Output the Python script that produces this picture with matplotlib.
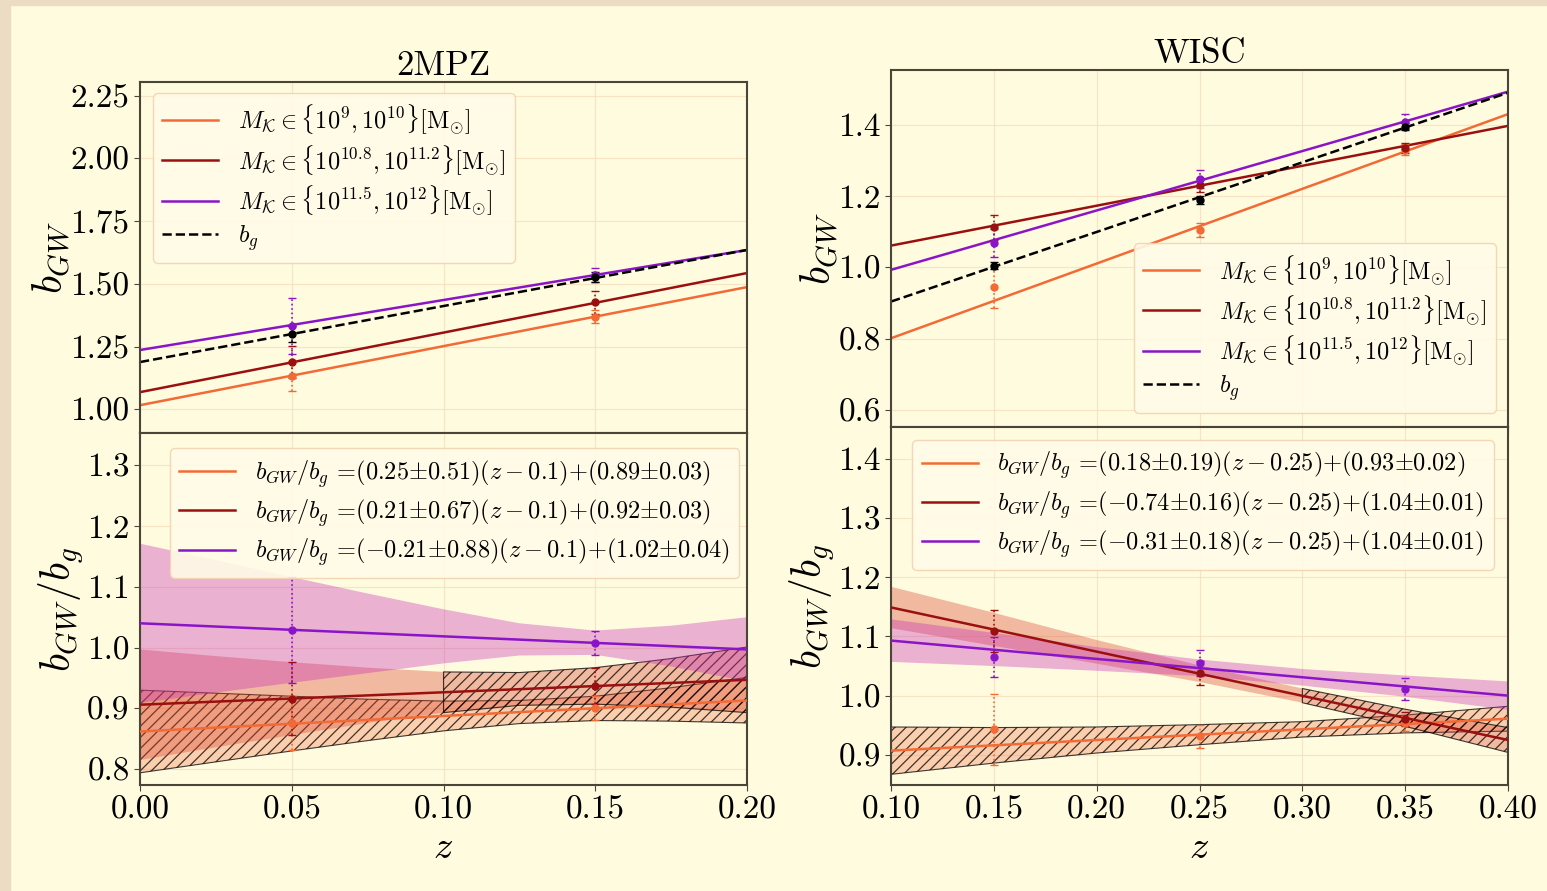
import numpy as np
import matplotlib
matplotlib.use("Agg")
import matplotlib.pyplot as plt
from matplotlib.patches import Rectangle

plt.rcParams['font.family'] = 'serif'
plt.rcParams['font.serif'] = ['cmr10']
plt.rcParams['mathtext.fontset'] = 'cm'
plt.rcParams['axes.formatter.use_mathtext'] = True
plt.rcParams['hatch.linewidth'] = 0.9

BG = '#fffbdf'
FRAME = '#ecdcc4'
C_OR = '#f26a35'
C_DR = '#9a1010'
C_PU = '#8a15c8'
F_OR = (0.957, 0.478, 0.314, 0.35)
F_DR = (0.851, 0.251, 0.165, 0.35)
F_PU = (0.780, 0.180, 0.720, 0.36)

mass_labels = [r'$M_{\mathcal{K}}\in\{10^{9}, 10^{10}\}[\mathrm{M}_{\odot}]$',
               r'$M_{\mathcal{K}}\in\{10^{10.8}, 10^{11.2}\}[\mathrm{M}_{\odot}]$',
               r'$M_{\mathcal{K}}\in\{10^{11.5}, 10^{12}\}[\mathrm{M}_{\odot}]$',
               r'$b_g$']
fit_labels_2mpz = [r'$b_{GW}/b_g$ =(0.25$\pm$0.51)($z-0.1$)+(0.89$\pm$0.03)',
                   r'$b_{GW}/b_g$ =(0.21$\pm$0.67)($z-0.1$)+(0.92$\pm$0.03)',
                   r'$b_{GW}/b_g$ =($-$0.21$\pm$0.88)($z-0.1$)+(1.02$\pm$0.04)']
fit_labels_wisc = [r'$b_{GW}/b_g$ =(0.18$\pm$0.19)($z-0.25$)+(0.93$\pm$0.02)',
                   r'$b_{GW}/b_g$ =($-$0.74$\pm$0.16)($z-0.25$)+(1.04$\pm$0.01)',
                   r'$b_{GW}/b_g$ =($-$0.31$\pm$0.18)($z-0.25$)+(1.04$\pm$0.01)']

# ---- 2MPZ ----
z_2mpz = [0.05, 0.15]
zl_2mpz = [0.0, 0.2]
b_or_2mpz = [1.133, 1.369]; e_or_2mpz = [0.06, 0.025]
b_dr_2mpz = [1.188, 1.426]; e_dr_2mpz = [0.065, 0.045]
b_pu_2mpz = [1.332, 1.535]; e_pu_2mpz = [0.11, 0.027]
b_bg_2mpz = [1.300, 1.526]; e_bg_2mpz = [0.03, 0.02]
bl_or_2mpz = [1.016, 1.487]
bl_dr_2mpz = [1.068, 1.543]
bl_pu_2mpz = [1.236, 1.635]
bl_bg_2mpz = [1.188, 1.635]

r_or_2mpz = [0.876, 0.901]; re_or_2mpz = [0.045, 0.02]
r_dr_2mpz = [0.916, 0.937]; re_dr_2mpz = [0.06, 0.03]
r_pu_2mpz = [1.029, 1.008]; re_pu_2mpz = [0.087, 0.02]
rl_or_2mpz = [0.862, 0.913]
rl_dr_2mpz = [0.906, 0.947]
rl_pu_2mpz = [1.040, 0.997]

zb_2mpz = [0.0, 0.025, 0.05, 0.075, 0.1, 0.125, 0.15, 0.175, 0.2]
pu_hi_2mpz = [1.171, 1.144, 1.116, 1.089, 1.063, 1.040, 1.028, 1.036, 1.050]
pu_lo_2mpz = [0.909, 0.926, 0.942, 0.958, 0.974, 0.987, 0.988, 0.969, 0.944]
dr_hi_2mpz = [0.997, 0.986, 0.976, 0.967, 0.960, 0.959, 0.967, 0.982, 1.001]
dr_lo_2mpz = [0.815, 0.836, 0.856, 0.876, 0.893, 0.905, 0.907, 0.902, 0.893]
or_hi_2mpz = [0.930, 0.925, 0.920, 0.915, 0.912, 0.913, 0.920, 0.934, 0.951]
or_lo_2mpz = [0.794, 0.812, 0.830, 0.847, 0.863, 0.875, 0.880, 0.879, 0.876]

# ---- WISC ----
z_wisc = [0.15, 0.25, 0.35]
zl_wisc = [0.1, 0.4]
b_or_wisc = [0.946, 1.105, 1.330]; e_or_wisc = [0.06, 0.02, 0.015]
b_dr_wisc = [1.112, 1.232, 1.335]; e_dr_wisc = [0.035, 0.02, 0.015]
b_pu_wisc = [1.068, 1.248, 1.409]; e_pu_wisc = [0.04, 0.025, 0.02]
b_bg_wisc = [1.005, 1.189, 1.395]; e_bg_wisc = [0.01, 0.01, 0.01]
bl_or_wisc = [0.801, 1.430]
bl_dr_wisc = [1.061, 1.397]
bl_pu_wisc = [0.993, 1.493]
bl_bg_wisc = [0.904, 1.490]

r_or_wisc = [0.943, 0.931, 0.953]; re_or_wisc = [0.06, 0.02, 0.012]
r_dr_wisc = [1.109, 1.038, 0.960]; re_dr_wisc = [0.035, 0.02, 0.012]
r_pu_wisc = [1.065, 1.055, 1.011]; re_pu_wisc = [0.034, 0.022, 0.018]
rl_or_wisc = [0.907, 0.961]
rl_dr_wisc = [1.149, 0.925]
rl_pu_wisc = [1.093, 1.000]

zb_wisc = [0.10, 0.15, 0.20, 0.25, 0.30, 0.35, 0.40]
pu_hi_wisc = [1.129, 1.106, 1.082, 1.061, 1.045, 1.034, 1.024]
pu_lo_wisc = [1.057, 1.050, 1.042, 1.033, 1.017, 0.998, 0.976]
dr_hi_wisc = [1.184, 1.140, 1.094, 1.051, 1.012, 0.977, 0.946]
dr_lo_wisc = [1.114, 1.084, 1.054, 1.023, 0.988, 0.948, 0.904]
or_hi_wisc = [0.947, 0.946, 0.947, 0.951, 0.956, 0.967, 0.982]
or_lo_wisc = [0.867, 0.886, 0.903, 0.917, 0.930, 0.937, 0.940]


def points(ax, z, y, e, c):
    eb = ax.errorbar(z, y, yerr=e, fmt='o', color=c, ms=5, capsize=3,
                     elinewidth=1.2, capthick=1.0, zorder=5)
    eb[2][0].set_linestyle(':')


def style(ax):
    ax.set_facecolor(BG)
    ax.grid(True, color='#f6d9b8', lw=0.8, alpha=0.7)
    ax.set_axisbelow(True)
    for s in ax.spines.values():
        s.set_color('#4a4538')
        s.set_linewidth(1.5)
    ax.tick_params(labelsize=24, length=4, color='#4a4538')


def legend_box(leg):
    fr = leg.get_frame()
    fr.set_facecolor('#fffbe8')
    fr.set_edgecolor('#f3d3b3')
    fr.set_alpha(0.9)


fig = plt.figure(figsize=(15.47, 8.91), dpi=100, facecolor=BG)
fig.patches.append(Rectangle((0, 0), 10 / 1547, 1, transform=fig.transFigure,
                             color=FRAME, zorder=-10))
fig.patches.append(Rectangle((0, 1 - 5 / 891), 1, 5 / 891, transform=fig.transFigure,
                             color=FRAME, zorder=-10))

ax1 = fig.add_axes([0.0905, 0.514, 0.3924, 0.394])
ax2 = fig.add_axes([0.0905, 0.119, 0.3924, 0.395], sharex=ax1)
ax3 = fig.add_axes([0.5760, 0.5208, 0.3988, 0.4007])
ax4 = fig.add_axes([0.5760, 0.119, 0.3988, 0.4018], sharex=ax3)
for ax in (ax1, ax2, ax3, ax4):
    style(ax)

# top left: bias 2MPZ
for yl, c, ls in ((bl_or_2mpz, C_OR, '-'), (bl_dr_2mpz, C_DR, '-'),
                  (bl_pu_2mpz, C_PU, '-'), (bl_bg_2mpz, 'k', '--')):
    ax1.plot(zl_2mpz, yl, color=c, ls=ls, lw=1.8)
for y, e, c in ((b_or_2mpz, e_or_2mpz, C_OR), (b_dr_2mpz, e_dr_2mpz, C_DR),
                (b_pu_2mpz, e_pu_2mpz, C_PU), (b_bg_2mpz, e_bg_2mpz, 'k')):
    points(ax1, z_2mpz, y, e, c)
ax1.set_ylim(0.905, 2.305)
ax1.set_yticks([1.00, 1.25, 1.50, 1.75, 2.00, 2.25])
ax1.set_yticklabels(['%.2f' % v for v in [1.00, 1.25, 1.50, 1.75, 2.00, 2.25]])
ax1.set_ylabel(r'$b_{GW}$', fontsize=30, labelpad=-2)
ax1.set_title('2MPZ', fontsize=25, pad=4)
ax1.tick_params(labelbottom=False)
leg = ax1.legend(ax1.lines[:4], mass_labels, loc='upper left', fontsize=17.5,
                 bbox_to_anchor=(0.021, 0.969), borderaxespad=0, handlelength=2.3,
                 labelspacing=0.26)
legend_box(leg)

# bottom left: ratio 2MPZ
ax2.fill_between(zb_2mpz, or_lo_2mpz, or_hi_2mpz, facecolor=F_OR,
                 edgecolor=(0, 0, 0, 0.75), hatch='///', lw=0.8, zorder=1)
ax2.fill_between(zb_2mpz[:5], dr_lo_2mpz[:5], dr_hi_2mpz[:5], facecolor=F_DR,
                 edgecolor='none', lw=0, zorder=1)
ax2.fill_between(zb_2mpz[4:], dr_lo_2mpz[4:], dr_hi_2mpz[4:], facecolor=F_DR,
                 edgecolor=(0, 0, 0, 0.75), hatch='///', lw=0.8, zorder=1)
ax2.fill_between(zb_2mpz, pu_lo_2mpz, pu_hi_2mpz, facecolor=F_PU,
                 edgecolor='none', lw=0, zorder=1)
hl = []
for yl, c in ((rl_or_2mpz, C_OR), (rl_dr_2mpz, C_DR), (rl_pu_2mpz, C_PU)):
    hl += ax2.plot(zl_2mpz, yl, color=c, lw=1.8, zorder=4)
for y, e, c in ((r_or_2mpz, re_or_2mpz, C_OR), (r_dr_2mpz, re_dr_2mpz, C_DR),
                (r_pu_2mpz, re_pu_2mpz, C_PU)):
    points(ax2, z_2mpz, y, e, c)
ax2.set_xlim(0.0, 0.2)
ax2.set_xticks([0.0, 0.05, 0.10, 0.15, 0.20])
ax2.set_xticklabels(['%.2f' % v for v in [0.0, 0.05, 0.10, 0.15, 0.20]])
ax2.set_ylim(0.774, 1.353)
ax2.set_yticks([0.8, 0.9, 1.0, 1.1, 1.2, 1.3])
ax2.set_yticklabels(['%.1f' % v for v in [0.8, 0.9, 1.0, 1.1, 1.2, 1.3]])
ax2.set_ylabel(r'$b_{GW}/b_g$', fontsize=30, labelpad=1)
ax2.set_xlabel(r'$z$', fontsize=28)
leg = ax2.legend(hl, fit_labels_2mpz, loc='upper left', fontsize=17.5,
                 bbox_to_anchor=(0.049, 0.957), borderaxespad=0, handlelength=2.3,
                 labelspacing=0.32)
legend_box(leg)

# top right: bias WISC
for yl, c, ls in ((bl_or_wisc, C_OR, '-'), (bl_dr_wisc, C_DR, '-'),
                  (bl_pu_wisc, C_PU, '-'), (bl_bg_wisc, 'k', '--')):
    ax3.plot(zl_wisc, yl, color=c, ls=ls, lw=1.8)
for y, e, c in ((b_or_wisc, e_or_wisc, C_OR), (b_dr_wisc, e_dr_wisc, C_DR),
                (b_pu_wisc, e_pu_wisc, C_PU), (b_bg_wisc, e_bg_wisc, 'k')):
    points(ax3, z_wisc, y, e, c)
ax3.set_ylim(0.552, 1.554)
ax3.set_yticks([0.6, 0.8, 1.0, 1.2, 1.4])
ax3.set_yticklabels(['%.1f' % v for v in [0.6, 0.8, 1.0, 1.2, 1.4]])
ax3.set_ylabel(r'$b_{GW}$', fontsize=30, labelpad=-2)
ax3.set_title('WISC', fontsize=25, pad=4)
ax3.tick_params(labelbottom=False)
leg = ax3.legend(ax3.lines[:4], mass_labels, loc='lower right', fontsize=17.5,
                 bbox_to_anchor=(0.98, 0.04), borderaxespad=0, handlelength=2.3,
                 labelspacing=0.26)
legend_box(leg)

# bottom right: ratio WISC
ax4.fill_between(zb_wisc, or_lo_wisc, or_hi_wisc, facecolor=F_OR,
                 edgecolor=(0, 0, 0, 0.75), hatch='///', lw=0.8, zorder=1)
ax4.fill_between(zb_wisc[:5], dr_lo_wisc[:5], dr_hi_wisc[:5], facecolor=F_DR,
                 edgecolor='none', lw=0, zorder=1)
ax4.fill_between(zb_wisc[4:], dr_lo_wisc[4:], dr_hi_wisc[4:], facecolor=F_DR,
                 edgecolor=(0, 0, 0, 0.75), hatch='///', lw=0.8, zorder=1)
ax4.fill_between(zb_wisc, pu_lo_wisc, pu_hi_wisc, facecolor=F_PU,
                 edgecolor='none', lw=0, zorder=1)
hl = []
for yl, c in ((rl_or_wisc, C_OR), (rl_dr_wisc, C_DR), (rl_pu_wisc, C_PU)):
    hl += ax4.plot(zl_wisc, yl, color=c, lw=1.8, zorder=4)
for y, e, c in ((r_or_wisc, re_or_wisc, C_OR), (r_dr_wisc, re_dr_wisc, C_DR),
                (r_pu_wisc, re_pu_wisc, C_PU)):
    points(ax4, z_wisc, y, e, c)
ax4.set_xlim(0.1, 0.4)
xt = [0.10, 0.15, 0.20, 0.25, 0.30, 0.35, 0.40]
ax4.set_xticks(xt)
ax4.set_xticklabels(['%.2f' % v for v in xt])
ax4.set_ylim(0.849, 1.454)
ax4.set_yticks([0.9, 1.0, 1.1, 1.2, 1.3, 1.4])
ax4.set_yticklabels(['%.1f' % v for v in [0.9, 1.0, 1.1, 1.2, 1.3, 1.4]])
ax4.set_ylabel(r'$b_{GW}/b_g$', fontsize=30, labelpad=1)
ax4.set_xlabel(r'$z$', fontsize=28)
leg = ax4.legend(hl, fit_labels_wisc, loc='upper left', fontsize=17.5,
                 bbox_to_anchor=(0.034, 0.964), borderaxespad=0, handlelength=2.3,
                 labelspacing=0.32)
legend_box(leg)

fig.savefig('out.png', dpi=100, facecolor=BG)
